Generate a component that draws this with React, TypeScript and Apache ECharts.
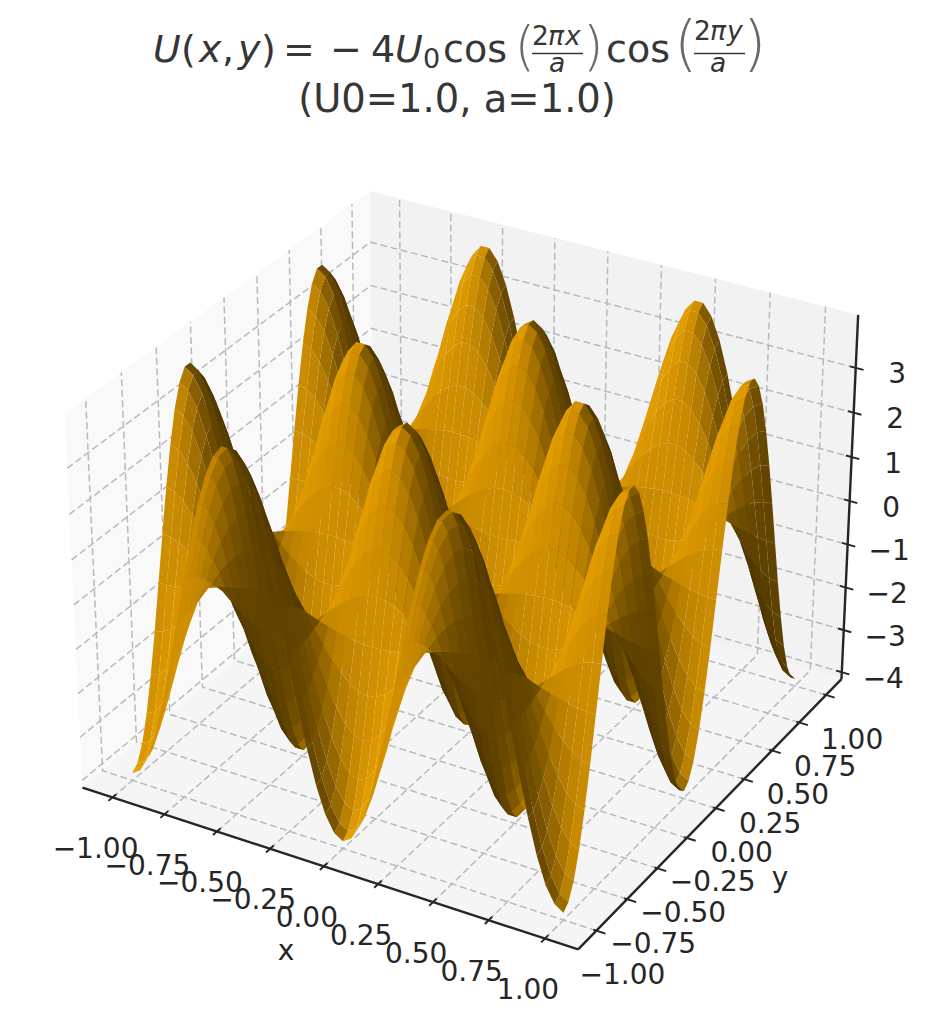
import React, { useEffect, useRef } from "react";
import * as echarts from "echarts";

// ---- data ----
const nodePositions = [
  -1, -0.96, -0.92, -0.88, -0.84, -0.8, -0.76, -0.72, -0.68, -0.64, -0.6, -0.56, -0.52,
  -0.48, -0.44, -0.4, -0.36, -0.32, -0.28, -0.24, -0.2, -0.16, -0.12, -0.08, -0.04, 0,
  0.04, 0.08, 0.12, 0.16, 0.2, 0.24, 0.28, 0.32, 0.36, 0.4, 0.44, 0.48, 0.52, 0.56, 0.6,
  0.64, 0.68, 0.72, 0.76, 0.8, 0.84, 0.88, 0.92, 0.96, 1,
];
// one repeating cell of the potential surface
const cellValues = [
  [-4.0, -3.87, -3.51, -2.92, -2.14, -1.24, -0.25, 0.75, 1.7, 2.55, 3.24, 3.72, 3.97],
  [-3.87, -3.75, -3.4, -2.83, -2.08, -1.2, -0.24, 0.73, 1.65, 2.47, 3.13, 3.6, 3.84],
  [-3.51, -3.4, -3.07, -2.56, -1.88, -1.08, -0.22, 0.66, 1.49, 2.23, 2.84, 3.26, 3.48],
  [-2.92, -2.83, -2.56, -2.13, -1.56, -0.9, -0.18, 0.55, 1.24, 1.86, 2.36, 2.71, 2.89],
  [-2.14, -2.08, -1.88, -1.56, -1.15, -0.66, -0.14, 0.4, 0.91, 1.37, 1.73, 1.99, 2.13],
  [-1.24, -1.2, -1.08, -0.9, -0.66, -0.38, -0.08, 0.23, 0.53, 0.79, 1.0, 1.15, 1.23],
  [-0.25, -0.24, -0.22, -0.18, -0.14, -0.08, -0.02, 0.05, 0.11, 0.16, 0.2, 0.23, 0.25],
  [0.75, 0.73, 0.66, 0.55, 0.4, 0.23, 0.05, -0.14, -0.32, -0.48, -0.61, -0.7, -0.74],
  [1.7, 1.65, 1.49, 1.24, 0.91, 0.53, 0.11, -0.32, -0.73, -1.09, -1.38, -1.58, -1.69],
  [2.55, 2.47, 2.23, 1.86, 1.37, 0.79, 0.16, -0.48, -1.09, -1.63, -2.06, -2.37, -2.53],
  [3.24, 3.13, 2.84, 2.36, 1.73, 1.0, 0.2, -0.61, -1.38, -2.06, -2.62, -3.01, -3.21],
  [3.72, 3.6, 3.26, 2.71, 1.99, 1.15, 0.23, -0.7, -1.58, -2.37, -3.01, -3.46, -3.69],
  [3.97, 3.84, 3.48, 2.89, 2.13, 1.23, 0.25, -0.74, -1.69, -2.53, -3.21, -3.69, -3.94],
];
// which row/column of the cell each grid node shows
const cellIndexAtNode = [
  0, 1, 2, 3, 4, 5, 6, 7, 8, 9, 10, 11, 12, 12, 11, 10, 9, 8, 7, 6, 5, 4, 3, 2, 1, 0,
  1, 2, 3, 4, 5, 6, 7, 8, 9, 10, 11, 12, 12, 11, 10, 9, 8, 7, 6, 5, 4, 3, 2, 1, 0,
];
const xTicks = [-1, -0.75, -0.5, -0.25, 0, 0.25, 0.5, 0.75, 1];
const xTickLabels = ["\u22121.00", "\u22120.75", "\u22120.50", "\u22120.25", "0.00", "0.25", "0.50", "0.75", "1.00"];
const yTicks = xTicks;
const yTickLabels = xTickLabels;
const zTicks = [-4, -3, -2, -1, 0, 1, 2, 3];
const zTickLabels = ["\u22124", "\u22123", "\u22122", "\u22121", "0", "1", "2", "3"];
const xyLimit = 1.146;
const zLimit = 4.167;

// ---- view (elevation 30, azimuth -60, perspective, box 4:4:3) ----
const HALF_XY = 0.5952;
const HALF_Z = 0.4464;
const U = [0.866, 0.5, 0];
const V = [-0.25, 0.433, 0.866];
const W = [0.433, -0.75, 0.5];
const DIST = 10;
const PX = 4770;
const CX = 469;
const CY = 552;
const WIDTH = 930;
const HEIGHT = 1024;
const FONT = '"DejaVu Sans"';
const INK = "#262626";
const TITLE_INK = "#363636";
const GRID_INK = "#b7babd";
const BASE = [230, 159, 0];

function depthOf(x: number, y: number, z: number) {
  const dx = (x / xyLimit) * HALF_XY, dy = (y / xyLimit) * HALF_XY, dz = (z / zLimit) * HALF_Z;
  return dx * W[0] + dy * W[1] + dz * W[2];
}
function project(x: number, y: number, z: number): [number, number] {
  const dx = (x / xyLimit) * HALF_XY, dy = (y / xyLimit) * HALF_XY, dz = (z / zLimit) * HALF_Z;
  const den = DIST - (dx * W[0] + dy * W[1] + dz * W[2]);
  return [(dx * U[0] + dy * U[1] + dz * U[2]) / den, (dx * V[0] + dy * V[1] + dz * V[2]) / den];
}

const zAt = (r: number, c: number) => cellValues[cellIndexAtNode[r]][cellIndexAtNode[c]];

function facetPoints(r: number, c: number) {
  return [
    [nodePositions[c], nodePositions[r], zAt(r, c)],
    [nodePositions[c + 1], nodePositions[r], zAt(r, c + 1)],
    [nodePositions[c + 1], nodePositions[r + 1], zAt(r + 1, c + 1)],
    [nodePositions[c], nodePositions[r + 1], zAt(r + 1, c)],
  ];
}
function facetColor(r: number, c: number) {
  const [p0, p1, p2] = facetPoints(r, c);
  const a = [p0[0] - p1[0], p0[1] - p1[1], p0[2] - p1[2]];
  const b = [p1[0] - p2[0], p1[1] - p2[1], p1[2] - p2[2]];
  const n = [a[1] * b[2] - a[2] * b[1], a[2] * b[0] - a[0] * b[2], a[0] * b[1] - a[1] * b[0]];
  const len = Math.hypot(n[0], n[1], n[2]);
  const shade = (n[0] * -0.6667 + n[1] * -0.6667 + n[2] * 0.3333) / len;
  const f = 0.3 + (0.7 * (shade + 1)) / 2;
  return `rgb(${Math.round(BASE[0] * f)},${Math.round(BASE[1] * f)},${Math.round(BASE[2] * f)})`;
}

function buildFacets() {
  const out: { value: number[]; depth: number }[] = [];
  for (let r = 0; r < nodePositions.length - 1; r++) {
    for (let c = 0; c < nodePositions.length - 1; c++) {
      const pts = facetPoints(r, c);
      const depth = pts.reduce((s, p) => s + depthOf(p[0], p[1], p[2]), 0) / 4;
      const [px, py] = project(pts[0][0], pts[0][1], pts[0][2]);
      out.push({ value: [px, py, r, c], depth });
    }
  }
  out.sort((a, b) => a.depth - b.depth);
  return out.map((f) => f.value);
}

const L = xyLimit;
const Zl = zLimit;
const panes = [
  { fill: "#f9f9f9", pts: [[-L, -L, -Zl], [-L, L, -Zl], [-L, L, Zl], [-L, -L, Zl]] },
  { fill: "#f2f2f2", pts: [[-L, L, -Zl], [L, L, -Zl], [L, L, Zl], [-L, L, Zl]] },
  { fill: "#f5f5f5", pts: [[-L, -L, -Zl], [L, -L, -Zl], [L, L, -Zl], [-L, L, -Zl]] },
];
const gridPaths = [
  ...xTicks.map((t) => [[t, -L, -Zl], [t, L, -Zl], [t, L, Zl]]),
  ...yTicks.map((t) => [[L, t, -Zl], [-L, t, -Zl], [-L, t, Zl]]),
  ...zTicks.map((t) => [[-L, -L, t], [-L, L, t], [L, L, t]]),
];
const axisPaths = [
  [[-L, -L, -Zl], [L, -L, -Zl]],
  [[L, -L, -Zl], [L, L, -Zl]],
  [[L, L, -Zl], [L, L, Zl]],
  ...xTicks.map((t) => [[t, -L - 0.03, -Zl], [t, -L + 0.027, -Zl]]),
  ...yTicks.map((t) => [[L + 0.04, t, -Zl], [L - 0.013, t, -Zl]]),
  ...zTicks.map((t) => [[L + 0.035, L, t], [L - 0.026, L, t]]),
];
const tickTexts = [
  ...xTicks.map((t, i) => ({ at: [t, -L, -Zl], text: xTickLabels[i], dx: -17, dy: 51 })),
  ...yTicks.map((t, i) => ({ at: [L, t, -Zl], text: yTickLabels[i], dx: 26, dy: 44 })),
  ...zTicks.map((t, i) => ({ at: [L, L, t], text: zTickLabels[i], dx: 41.5, dy: 6 })),
];

const coordOf = (api: any, p: number[]) => api.coord(project(p[0], p[1], p[2]));

function indexSeries(name: string, length: number, z: number, renderItem: any) {
  return {
    type: "custom",
    name,
    coordinateSystem: "cartesian2d",
    clip: false,
    silent: true,
    z,
    progressive: 0,
    animation: false,
    data: Array.from({ length }, (_, i) => [0, 0, i]),
    renderItem,
  };
}

function mathText(text: string, x: number, baseline: number, size: number, italic = false, fill = TITLE_INK) {
  return {
    type: "text",
    silent: true,
    x,
    y: baseline - 0.346 * size,
    style: {
      text,
      fill,
      font: `${italic ? "italic " : ""}${size}px ${FONT}`,
      align: "left",
      verticalAlign: "middle",
    },
  };
}
// tall thin brackets of the fractions: a light weight, falling back to a softer ink
function bracket(text: string, x: number, baseline: number, size: number) {
  return {
    type: "text",
    silent: true,
    x,
    y: baseline - 0.346 * size,
    style: {
      text,
      fill: "#6a6a6a",
      font: `200 ${size}px "DejaVu Sans"`,
      align: "left",
      verticalAlign: "middle",
    },
  };
}
function fractionBar(x1: number, x2: number, y: number) {
  return {
    type: "line",
    silent: true,
    shape: { x1, y1: y, x2, y2: y },
    style: { stroke: TITLE_INK, lineWidth: 1.6 },
  };
}
function centered(text: string, x: number, y: number, size: number, fill: string) {
  return {
    type: "text",
    silent: true,
    x,
    y,
    style: { text, fill, font: `${size}px ${FONT}`, align: "center", verticalAlign: "middle" },
  };
}

const titleElements = [
  mathText("U", 153, 62.5, 38, true),
  mathText("(", 181, 62.5, 38),
  mathText("x", 199, 62.5, 38, true),
  mathText(",", 222, 62.5, 38),
  mathText("y", 238, 62.5, 38, true),
  mathText(")", 261, 62.5, 38),
  mathText("=", 283, 62.5, 38),
  mathText("\u2212", 330, 62.5, 38),
  mathText("4", 371, 62.5, 38),
  mathText("U", 395, 62.5, 38, true),
  mathText("0", 423, 68, 27),
  mathText("cos", 443, 62.5, 38),
  bracket("(", 514.5, 65, 53),
  mathText("2", 532, 45, 26.5),
  mathText("\u03c0", 548, 45, 26.5, true),
  mathText("x", 565, 45, 26.5, true),
  fractionBar(532, 583, 53.5),
  mathText("a", 549, 71.5, 26.5, true),
  bracket(")", 583, 65, 53),
  mathText("cos", 606, 62.5, 38),
  bracket("(", 674, 64, 60),
  mathText("2", 694, 40, 26.5),
  mathText("\u03c0", 710, 40, 26.5, true),
  mathText("y", 727, 40, 26.5, true),
  fractionBar(694, 745, 53.5),
  mathText("a", 710, 71.5, 26.5, true),
  bracket(")", 743, 64, 60),
  centered("(U0=1.0, a=1.0)", 457, 98, 38.5, TITLE_INK),
  centered("x", 286, 950, 28, INK),
  centered("y", 780, 877, 28, INK),
];

export default function App() {
  const ref = useRef<HTMLDivElement>(null);
  useEffect(() => {
    const chart = echarts.init(ref.current!, undefined, { renderer: "svg" });
    chart.setOption({
      animation: false,
      backgroundColor: "#ffffff",
      grid: { left: 0, right: 0, top: 0, bottom: 0 },
      xAxis: { type: "value", show: false, min: (0 - CX) / PX, max: (WIDTH - CX) / PX },
      yAxis: { type: "value", show: false, min: (CY - HEIGHT) / PX, max: CY / PX },
      graphic: titleElements,
      series: [
        indexSeries("panes", panes.length, 1, (params: any, api: any) => ({
          type: "polygon",
          shape: { points: panes[params.dataIndex].pts.map((p) => coordOf(api, p)) },
          style: { fill: panes[params.dataIndex].fill, stroke: null },
        })),
        indexSeries("gridlines", gridPaths.length, 2, (params: any, api: any) => ({
          type: "polyline",
          shape: { points: gridPaths[params.dataIndex].map((p) => coordOf(api, p)) },
          style: { stroke: GRID_INK, lineWidth: 1.5, lineDash: [7, 3.5], fill: null },
        })),
        {
          type: "custom",
          name: "U(x,y)",
          coordinateSystem: "cartesian2d",
          clip: false,
          silent: true,
          z: 3,
          progressive: 0,
          animation: false,
          data: buildFacets(),
          renderItem: (_: any, api: any) => {
            const r = api.value(2), c = api.value(3);
            return {
              type: "polygon",
              shape: { points: facetPoints(r, c).map((p) => coordOf(api, p)) },
              style: { fill: facetColor(r, c), stroke: null },
            };
          },
        },
        indexSeries("axes", axisPaths.length, 4, (params: any, api: any) => ({
          type: "polyline",
          shape: { points: axisPaths[params.dataIndex].map((p) => coordOf(api, p)) },
          style: { stroke: INK, lineWidth: params.dataIndex < 3 ? 2.4 : 1.9, fill: null },
        })),
        indexSeries("tick labels", tickTexts.length, 5, (params: any, api: any) => {
          const t = tickTexts[params.dataIndex];
          const [x, y] = coordOf(api, t.at);
          return {
            type: "text",
            x: x + t.dx,
            y: y + t.dy,
            style: { text: t.text, fill: INK, font: `28px ${FONT}`, align: "center", verticalAlign: "middle" },
          };
        }),
      ],
    });
    return () => chart.dispose();
  }, []);
  return <div ref={ref} style={{ position: "absolute", left: 0, top: 0, width: WIDTH, height: HEIGHT }} />;
}
